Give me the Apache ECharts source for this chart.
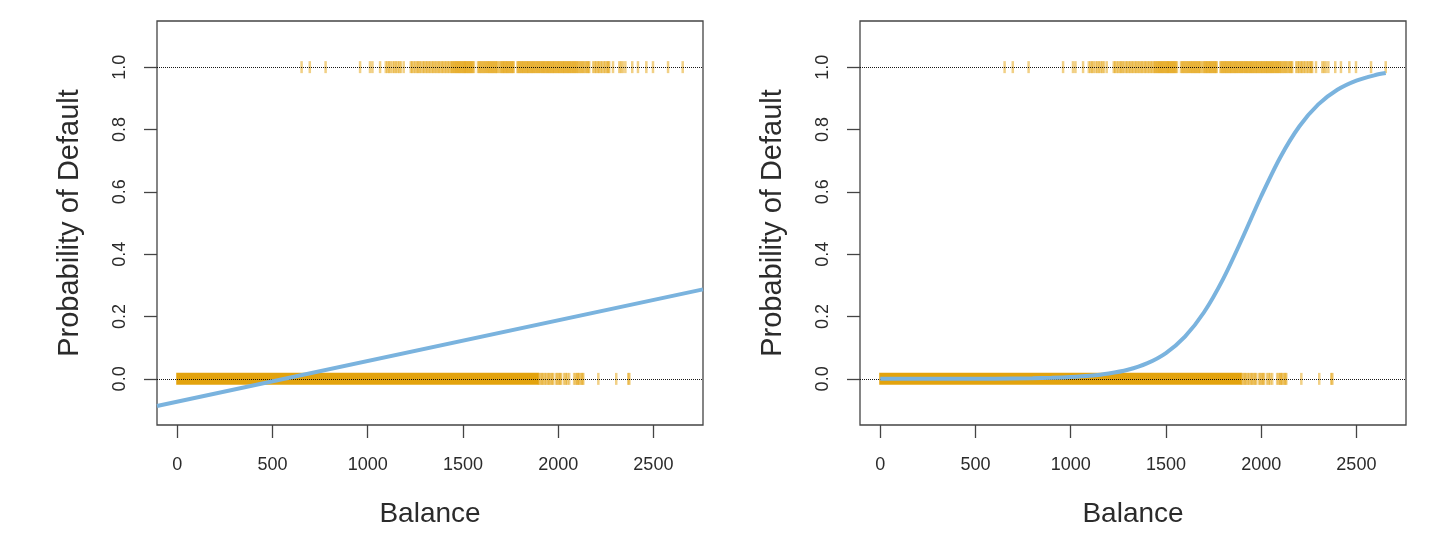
<!DOCTYPE html>
<html>
<head>
<meta charset="utf-8">
<script src="https://cdn.jsdelivr.net/npm/echarts@6/dist/echarts.min.js"></script>
<style>
html,body{margin:0;padding:0;background:#fff;}
#chart{width:1431px;height:538px;}
</style>
</head>
<body>
<div id="chart"></div>
<script>
// ---- data ----
const xTicks = [0, 500, 1000, 1500, 2000, 2500];
const yTicks = [0, 0.2, 0.4, 0.6, 0.8, 1.0];
const xRange = [-106.2, 2760.5];
const yRange = [-0.148, 1.148];
const xTitle = 'Balance';
const yTitle = 'Probability of Default';

// balances of defaulters (rug at y = 1)
const defaultYes = [653, 696, 779, 960, 1012, 1025, 1065,
  1095, 1104, 1112, 1120, 1131, 1140, 1148, 1157, 1166, 1174, 1189,
  1226, 1233, 1241, 1250, 1258, 1266, 1272, 1281, 1290, 1297, 1305, 1313, 1320, 1328, 1336, 1344,
  1351, 1359, 1367, 1374, 1382, 1390, 1397, 1405, 1413, 1420, 1428, 1436, 1442, 1447,
  1453, 1458, 1463, 1468, 1473, 1478, 1483, 1488, 1493, 1498, 1503, 1508, 1512, 1517, 1522, 1527,
  1532, 1537, 1542, 1547, 1552, 1558, 1579, 1585, 1591, 1597, 1603, 1609, 1615, 1621,
  1627, 1632, 1638, 1643, 1649, 1654, 1660, 1665, 1671, 1676, 1681, 1690,
  1698, 1703, 1709, 1714, 1719, 1725, 1730, 1735, 1741, 1746, 1752, 1757, 1762, 1767,
  1786, 1791, 1797, 1802, 1808, 1813, 1818, 1824, 1829, 1835, 1840, 1845, 1851, 1856, 1862, 1867,
  1872, 1878, 1883, 1889, 1894, 1899, 1905, 1910, 1916, 1921, 1926, 1932, 1937, 1943, 1948, 1953,
  1959, 1964, 1970, 1975, 1980, 1986, 1991, 1997, 2002, 2007, 2013, 2018, 2024, 2029, 2034, 2040,
  2045, 2051, 2056, 2061, 2067, 2072, 2078, 2083, 2088, 2094, 2099, 2105,
  2112, 2118, 2125, 2131, 2138, 2145, 2152, 2158, 2163,
  2184, 2192, 2200, 2208, 2215, 2223, 2231, 2240, 2248, 2256, 2263, 2268,
  2288, 2321, 2330, 2340, 2353, 2389, 2419, 2463, 2498, 2577, 2654];

// non-defaulters (rug at y = 0): a solid run, then individual marks
const defaultNoRun = [0, 1893];
const defaultNo = [1900, 1908, 1915, 1922, 1930, 1938, 1946, 1953, 1960, 1968, 1974,
  1989, 1996, 2003, 2010, 2016, 2032, 2040, 2048, 2058,
  2084, 2092, 2100, 2105, 2111, 2120, 2127, 2132, 2211, 2305, 2368, 2374];

// linear regression fit (left panel): [balance, probability]
const linearFit = [[-106.2, -0.087], [2760.5, 0.287]];

// logistic regression fit (right panel)
const logisticX = [0, 200, 400, 600, 800, 900, 1000, 1100, 1200, 1300, 1400, 1500, 1600, 1700,
  1800, 1900, 2000, 2100, 2200, 2300, 2400, 2500, 2600, 2654];
const logisticY = [0.000, 0.000, 0.0002, 0.0007, 0.0019, 0.0033, 0.0058, 0.0099, 0.0171, 0.0292,
  0.0496, 0.0829, 0.1355, 0.2137, 0.3201, 0.4494, 0.5858, 0.7103, 0.8095, 0.8804, 0.9273,
  0.9567, 0.9746, 0.9810];

// ---- styling ----
const FONT = 'Liberation Sans, Arial, Helvetica, sans-serif';
const TEXT = '#2b2b2b';
const FRAME = '#444444';
const ORANGE = 'rgba(226,156,0,0.6)';
const ORANGE_SOLID = 'rgba(226,158,0,0.95)';
const BLUE = '#7ab3de';

const panels = [{left: 157, width: 546}, {left: 860, width: 546}];

const grids = [], xAxes = [], yAxes = [], series = [];
panels.forEach((p, i) => {
  grids.push({left: p.left, top: 21, width: p.width, height: 404, show: true,
    borderColor: FRAME, borderWidth: 1.3, backgroundColor: 'transparent'});
  xAxes.push({type: 'value', gridIndex: i, min: xRange[0], max: xRange[1],
    splitLine: {show: false}, axisLine: {show: false, onZero: false},
    axisTick: {show: true, length: 13, customValues: xTicks, lineStyle: {color: FRAME, width: 1.3}},
    axisLabel: {customValues: xTicks, fontSize: 18, color: TEXT, fontFamily: FONT, margin: 31,
      formatter: v => String(v)},
    name: xTitle, nameLocation: 'middle', nameGap: 75,
    nameTextStyle: {fontSize: 28, color: TEXT, fontFamily: FONT}});
  yAxes.push({type: 'value', gridIndex: i, min: yRange[0], max: yRange[1],
    splitLine: {show: false}, axisLine: {show: false, onZero: false},
    axisTick: {show: true, length: 13, customValues: yTicks, lineStyle: {color: FRAME, width: 1.3}},
    axisLabel: {customValues: yTicks, rotate: 90, fontSize: 18, color: TEXT, fontFamily: FONT, margin: 28,
      formatter: v => Number(v).toFixed(1)},
    name: yTitle, nameLocation: 'middle', nameGap: 73,
    nameTextStyle: {fontSize: 29, color: TEXT, fontFamily: FONT}});

  // solid run of non-default rug
  series.push({type: 'custom', xAxisIndex: i, yAxisIndex: i, z: 2, silent: true,
    data: [[defaultNoRun[0], defaultNoRun[1], 0]],
    encode: {x: [0, 1], y: 2},
    renderItem: (params, api) => {
      const s = api.coord([api.value(0), api.value(2)]);
      const e = api.coord([api.value(1), api.value(2)]);
      return {type: 'rect', shape: {x: s[0] - 1, y: s[1] - 6, width: e[0] - s[0] + 2, height: 12},
        style: {fill: ORANGE_SOLID}};
    }});
  // individual rug marks
  series.push({type: 'scatter', xAxisIndex: i, yAxisIndex: i, z: 2, silent: true,
    symbol: 'rect', symbolSize: [2.5, 12], itemStyle: {color: ORANGE},
    data: defaultNo.map(b => [b, 0]).concat(defaultYes.map(b => [b, 1])),
    markLine: {silent: true, symbol: ['none', 'none'], label: {show: false},
      lineStyle: {type: 'dotted', color: '#000', width: 1, opacity: 0.9},
      data: [{yAxis: 0}, {yAxis: 1}]}});
});

series.push({type: 'line', xAxisIndex: 0, yAxisIndex: 0, z: 5, silent: true, showSymbol: false,
  clip: true, data: linearFit, lineStyle: {color: BLUE, width: 4}});
series.push({type: 'line', xAxisIndex: 1, yAxisIndex: 1, z: 5, silent: true, showSymbol: false,
  smooth: 0.3, data: logisticX.map((x, k) => [x, logisticY[k]]), lineStyle: {color: BLUE, width: 4}});

const chart = echarts.init(document.getElementById('chart'), null, {renderer: 'canvas'});
chart.setOption({animation: false, backgroundColor: '#fff', grid: grids, xAxis: xAxes, yAxis: yAxes, series: series});
</script>
</body>
</html>
